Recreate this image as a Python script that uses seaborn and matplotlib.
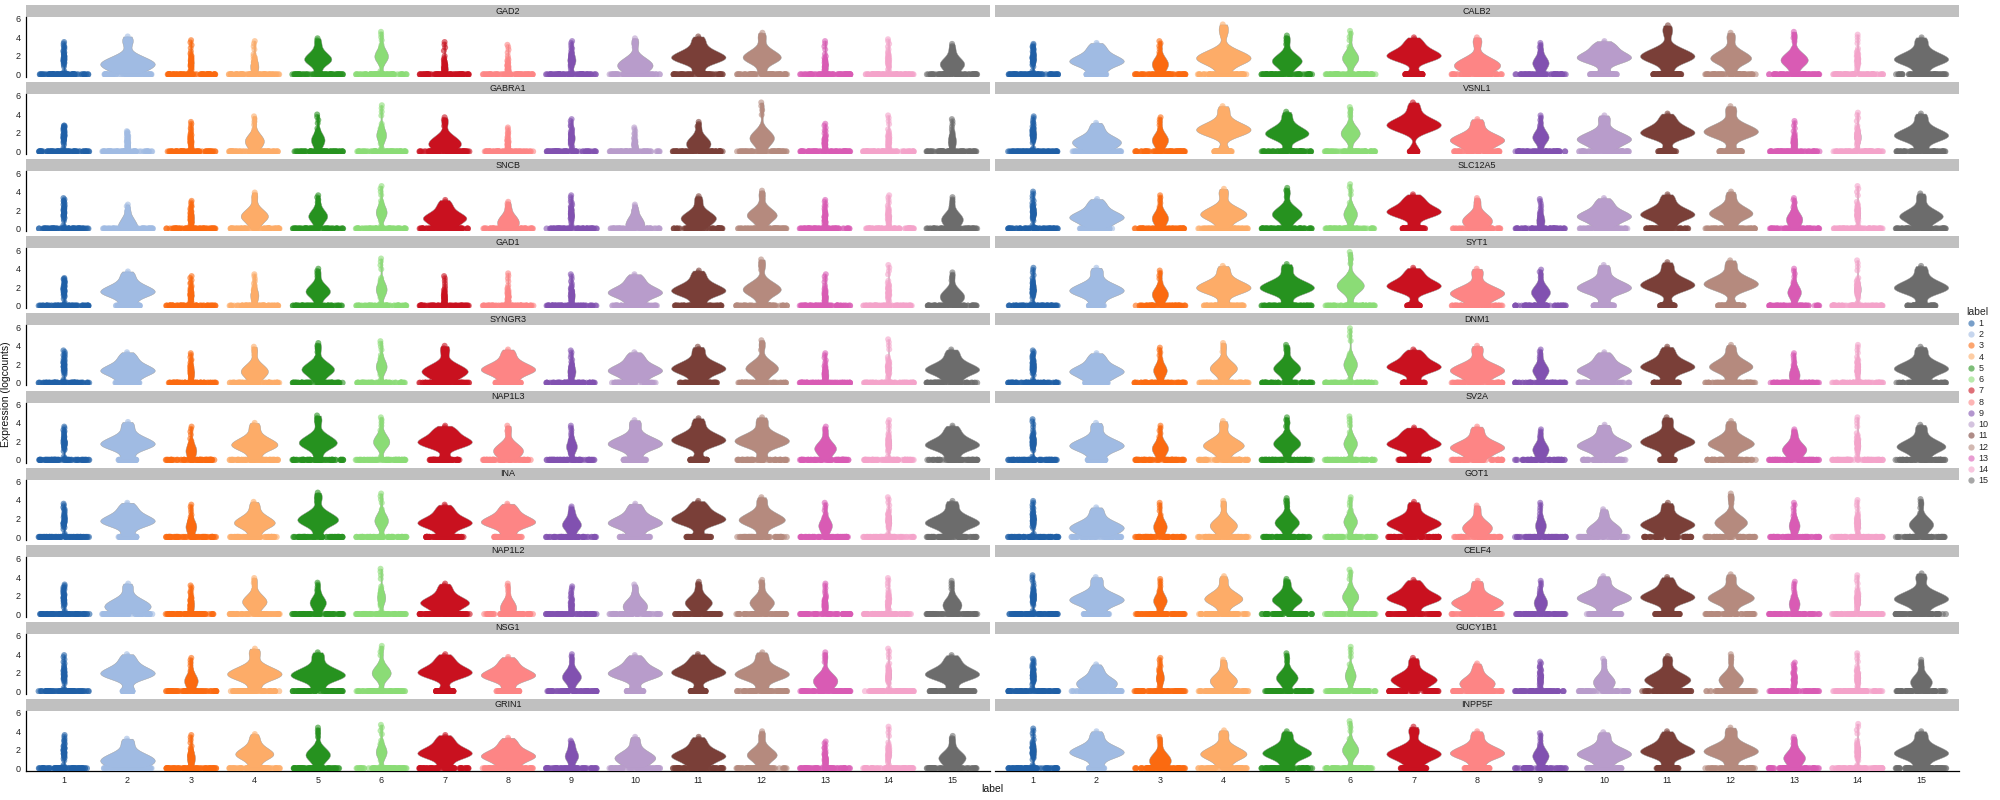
import numpy as np
import pandas as pd
import seaborn as sns
import matplotlib.pyplot as plt
from matplotlib.lines import Line2D

# cluster labels and their colours
labels = [str(i) for i in range(1, 16)]
colours = ["#1f5fa6", "#a0bbe3", "#fb6a10", "#fdac68", "#26921f", "#8bdc76",
           "#c9111f", "#fd8585", "#8151b0", "#b89ccb", "#7a3f38", "#b58a7e",
           "#d95bb4", "#f4a3ca", "#6c6c6c"]
pal = dict(zip(labels, colours))

genes_left = ["GAD2", "GABRA1", "SNCB", "GAD1", "SYNGR3", "NAP1L3", "INA", "NAP1L2", "NSG1", "GRIN1"]
genes_right = ["CALB2", "VSNL1", "SLC12A5", "SYT1", "DNM1", "SV2A", "GOT1", "CELF4", "GUCY1B1", "INPP5F"]

# highest expression value per cluster
top = {
    "GAD2": [3.5, 4.1, 3.7, 3.6, 3.9, 4.6, 3.5, 3.2, 3.6, 3.9, 4.1, 4.5, 3.6, 3.8, 3.3],
    "GABRA1": [2.8, 2.2, 3.2, 3.8, 4.0, 5.0, 3.7, 2.6, 3.5, 2.6, 3.2, 5.3, 3.0, 3.9, 3.5],
    "SNCB": [3.3, 2.6, 3.0, 3.9, 3.6, 4.6, 3.1, 2.9, 3.6, 2.6, 3.5, 4.1, 3.1, 3.6, 3.4],
    "GAD1": [3.0, 3.7, 3.2, 3.4, 4.0, 5.1, 3.2, 3.5, 3.4, 3.4, 3.8, 5.0, 3.4, 4.4, 3.6],
    "SYNGR3": [3.5, 3.3, 3.2, 3.9, 4.3, 4.5, 4.0, 3.6, 3.5, 3.3, 3.9, 4.6, 3.2, 4.7, 3.6],
    "NAP1L3": [3.6, 4.1, 3.6, 4.0, 4.8, 4.6, 3.7, 3.7, 3.7, 4.3, 4.5, 4.6, 3.6, 4.3, 3.7],
    "INA": [3.6, 3.7, 3.5, 3.8, 4.8, 4.7, 3.5, 3.6, 3.3, 3.6, 3.9, 4.3, 3.7, 4.3, 3.9],
    "NAP1L2": [3.2, 3.3, 3.1, 3.9, 3.4, 4.9, 3.3, 3.3, 3.0, 3.2, 3.5, 3.7, 3.3, 3.9, 3.6],
    "NSG1": [3.9, 4.0, 3.6, 4.6, 4.2, 4.9, 4.0, 3.7, 4.0, 3.9, 4.0, 4.2, 4.2, 4.6, 3.9],
    "GRIN1": [3.6, 3.2, 3.6, 3.7, 4.4, 4.7, 3.6, 3.3, 3.0, 3.4, 3.4, 4.0, 2.9, 4.5, 3.5],
    "CALB2": [3.3, 3.4, 3.6, 5.4, 4.2, 4.7, 4.0, 4.0, 3.4, 3.6, 5.3, 4.5, 4.6, 4.3, 4.0],
    "VSNL1": [3.8, 3.1, 3.7, 4.9, 4.3, 4.8, 5.3, 3.5, 3.9, 3.9, 4.1, 4.9, 3.3, 4.2, 4.1],
    "SLC12A5": [4.0, 3.2, 3.6, 4.3, 4.4, 4.8, 3.7, 3.3, 3.2, 3.3, 3.7, 4.0, 3.3, 4.6, 3.8],
    "SYT1": [4.1, 4.1, 3.8, 4.3, 4.5, 5.8, 4.1, 4.0, 3.9, 4.4, 4.7, 4.9, 4.0, 4.9, 4.3],
    "DNM1": [3.5, 3.2, 3.8, 4.3, 4.1, 5.9, 3.6, 4.0, 3.6, 3.3, 3.9, 4.1, 3.2, 4.1, 3.9],
    "SV2A": [4.4, 4.0, 3.7, 4.2, 4.6, 4.7, 3.5, 3.6, 3.3, 3.8, 4.6, 4.2, 3.3, 4.6, 3.8],
    "GOT1": [3.9, 3.2, 3.7, 3.9, 4.2, 4.3, 3.8, 3.4, 3.7, 3.0, 3.7, 4.7, 3.7, 4.0, 4.1],
    "CELF4": [4.2, 4.0, 3.8, 4.1, 3.8, 4.8, 3.7, 3.6, 3.6, 4.1, 4.0, 4.3, 3.5, 4.2, 4.4],
    "GUCY1B1": [3.5, 2.9, 3.6, 3.4, 4.1, 4.8, 3.6, 3.0, 3.2, 3.5, 3.8, 4.0, 3.1, 4.1, 3.4],
    "INPP5F": [4.3, 4.0, 3.4, 4.1, 4.0, 5.1, 4.5, 4.0, 3.8, 3.9, 4.0, 4.4, 3.4, 4.8, 4.0],
}

# centre of the non-zero bump
mid = {
    "GAD2": [1.8, 1.2, 1.3, 1.0, 1.7, 2.0, 0.8, 0.8, 1.6, 1.1, 1.9, 1.9, 1.0, 1.5, 1.2],
    "GABRA1": [1.7, 0.9, 1.2, 1.2, 1.3, 1.8, 1.0, 0.8, 1.5, 0.7, 1.0, 1.5, 1.0, 1.2, 1.2],
    "SNCB": [1.8, 0.7, 1.2, 1.4, 1.4, 1.8, 1.2, 0.9, 1.6, 0.8, 1.2, 1.5, 1.2, 1.3, 1.1],
    "GAD1": [1.7, 1.6, 1.2, 1.2, 1.6, 1.8, 0.9, 1.0, 1.2, 1.5, 1.7, 1.8, 1.0, 1.5, 1.1],
    "SYNGR3": [1.8, 1.4, 1.2, 1.3, 1.5, 1.8, 1.3, 1.5, 1.3, 1.4, 1.6, 1.6, 1.0, 1.6, 1.5],
    "NAP1L3": [1.9, 1.8, 1.1, 1.7, 1.9, 2.0, 2.0, 1.1, 1.5, 1.8, 2.2, 2.1, 1.3, 1.8, 1.7],
    "INA": [1.8, 1.8, 1.2, 1.6, 1.9, 1.8, 1.6, 1.7, 1.4, 1.6, 2.0, 1.9, 1.3, 1.8, 1.6],
    "NAP1L2": [1.7, 1.0, 1.1, 1.4, 1.3, 1.8, 1.3, 0.9, 1.0, 1.0, 1.3, 1.3, 1.1, 1.4, 1.1],
    "NSG1": [1.8, 2.0, 1.2, 1.9, 1.8, 2.0, 2.1, 1.8, 1.6, 2.0, 2.1, 1.9, 1.2, 1.8, 1.9],
    "GRIN1": [1.8, 1.0, 1.2, 1.6, 1.5, 1.8, 1.7, 1.4, 1.4, 1.2, 1.4, 1.5, 1.0, 1.6, 1.2],
    "CALB2": [1.8, 1.5, 1.2, 1.8, 1.5, 1.8, 2.1, 1.1, 1.3, 1.9, 2.0, 1.8, 1.6, 1.6, 1.7],
    "VSNL1": [1.9, 1.1, 1.3, 2.4, 2.0, 2.0, 2.9, 1.3, 1.6, 1.4, 2.1, 2.2, 1.0, 1.6, 1.8],
    "SLC12A5": [1.8, 1.3, 1.2, 1.6, 1.6, 1.6, 1.9, 1.0, 1.0, 1.4, 1.6, 1.7, 1.1, 1.7, 1.4],
    "SYT1": [1.8, 1.7, 1.3, 2.0, 2.0, 2.2, 2.2, 1.4, 1.5, 2.0, 2.3, 2.4, 1.5, 1.8, 2.0],
    "DNM1": [1.8, 1.3, 1.4, 1.6, 1.6, 2.0, 1.8, 1.4, 1.4, 1.4, 1.8, 1.8, 1.0, 1.6, 1.6],
    "SV2A": [2.0, 1.6, 1.3, 1.6, 1.8, 1.8, 1.8, 1.4, 1.2, 1.6, 2.0, 1.8, 1.2, 1.7, 1.5],
    "GOT1": [1.9, 1.1, 1.2, 1.3, 1.6, 1.7, 1.5, 1.1, 1.3, 0.9, 1.4, 1.6, 1.3, 1.5, 1.4],
    "CELF4": [1.9, 1.6, 1.5, 1.7, 1.6, 1.9, 1.8, 1.3, 1.3, 1.8, 1.9, 1.8, 1.2, 1.6, 1.7],
    "GUCY1B1": [1.7, 1.0, 1.5, 1.2, 1.5, 1.7, 1.3, 1.0, 1.4, 1.1, 1.3, 1.3, 1.3, 1.5, 1.1],
    "INPP5F": [1.9, 1.8, 1.0, 1.6, 1.7, 2.0, 1.6, 1.7, 1.4, 1.6, 1.9, 1.9, 1.2, 1.8, 1.7],
}

# relative width of the non-zero bump (1 = full violin width)
bump_w = {
    "GAD2": [0.08, 1.0, 0.1, 0.15, 0.5, 0.25, 0.12, 0.06, 0.15, 0.65, 1.0, 0.7, 0.1, 0.06, 0.45],
    "GABRA1": [0.08, 0.1, 0.08, 0.35, 0.25, 0.18, 0.6, 0.08, 0.12, 0.12, 0.45, 0.45, 0.08, 0.06, 0.15],
    "SNCB": [0.08, 0.35, 0.12, 0.5, 0.35, 0.2, 0.8, 0.4, 0.1, 0.35, 0.65, 0.55, 0.08, 0.08, 0.4],
    "GAD1": [0.08, 1.0, 0.1, 0.15, 0.45, 0.2, 0.1, 0.08, 0.12, 1.0, 1.0, 0.7, 0.1, 0.06, 0.45],
    "SYNGR3": [0.08, 1.0, 0.12, 0.5, 0.6, 0.2, 0.85, 1.0, 0.15, 1.0, 1.0, 0.6, 0.12, 0.08, 1.0],
    "NAP1L3": [0.1, 1.0, 0.2, 0.85, 0.7, 0.3, 1.0, 0.55, 0.2, 1.0, 1.0, 1.0, 0.4, 0.1, 1.0],
    "INA": [0.08, 1.0, 0.2, 0.75, 0.75, 0.25, 1.0, 1.0, 0.35, 1.0, 1.0, 0.85, 0.25, 0.1, 1.0],
    "NAP1L2": [0.08, 0.85, 0.12, 0.45, 0.3, 0.15, 0.9, 0.3, 0.08, 0.45, 0.5, 0.45, 0.1, 0.06, 0.35],
    "NSG1": [0.08, 1.0, 0.25, 1.0, 1.0, 0.35, 1.0, 1.0, 0.35, 1.0, 1.0, 1.0, 0.45, 0.1, 1.0],
    "GRIN1": [0.08, 1.0, 0.15, 0.7, 0.45, 0.2, 1.0, 1.0, 0.25, 0.75, 1.0, 0.55, 0.1, 0.08, 0.5],
    "CALB2": [0.12, 1.0, 0.3, 1.0, 0.55, 0.3, 1.0, 0.85, 0.3, 1.0, 1.0, 0.75, 0.5, 0.08, 1.0],
    "VSNL1": [0.12, 0.9, 0.3, 1.0, 0.8, 0.35, 1.0, 1.0, 0.3, 1.0, 1.0, 1.0, 0.12, 0.12, 1.0],
    "SLC12A5": [0.12, 1.0, 0.3, 0.85, 0.55, 0.25, 1.0, 0.55, 0.15, 1.0, 1.0, 0.8, 0.3, 0.1, 0.8],
    "SYT1": [0.12, 1.0, 0.3, 1.0, 1.0, 0.5, 1.0, 1.0, 0.35, 1.0, 1.0, 1.0, 0.25, 0.12, 1.0],
    "DNM1": [0.12, 1.0, 0.25, 0.5, 0.5, 0.25, 1.0, 1.0, 0.3, 1.0, 1.0, 0.8, 0.2, 0.1, 1.0],
    "SV2A": [0.12, 1.0, 0.3, 0.75, 0.5, 0.25, 1.0, 1.0, 0.3, 1.0, 1.0, 0.85, 0.45, 0.1, 0.9],
    "GOT1": [0.12, 1.0, 0.25, 0.5, 0.45, 0.25, 1.0, 0.55, 0.2, 0.65, 1.0, 0.6, 0.2, 0.1, 0.45],
    "CELF4": [0.12, 1.0, 0.25, 0.7, 0.55, 0.3, 1.0, 0.95, 0.25, 1.0, 1.0, 0.85, 0.2, 0.1, 1.0],
    "GUCY1B1": [0.12, 0.75, 0.15, 0.5, 0.4, 0.2, 0.85, 0.65, 0.1, 0.4, 0.85, 0.45, 0.1, 0.1, 0.4],
    "INPP5F": [0.12, 1.0, 0.4, 0.85, 0.9, 0.3, 1.0, 1.0, 0.3, 1.0, 1.0, 1.0, 0.4, 0.1, 1.0],
}

# relative width of the band of zero counts
full = [1.0] * 15
zero_w = {
    "GAD2": full, "GABRA1": full, "SNCB": full,
    "GAD1": [1, 0.5, 1, 1, 1, 1, 1, 1, 1, 0.9, 0.95, 1, 1, 1, 1],
    "SYNGR3": [1, 0.5, 1, 1, 1, 1, 1, 0.5, 1, 0.9, 0.75, 1, 1, 1, 1],
    "NAP1L3": [1, 0.35, 1, 1, 1, 1, 0.6, 1, 1, 0.45, 0.35, 1, 1, 1, 1],
    "INA": [1, 0.35, 1, 1, 1, 1, 0.75, 0.55, 1, 0.6, 0.5, 1, 1, 1, 1],
    "NAP1L2": full,
    "NSG1": [1, 0.2, 1, 1, 1, 1, 0.35, 0.45, 1, 0.35, 0.3, 1, 1, 1, 0.9],
    "GRIN1": [1, 0.95, 1, 1, 1, 1, 1, 1, 1, 1, 1, 1, 1, 1, 1],
    "CALB2": [1, 0.4, 1, 1, 1, 1, 0.35, 1, 1, 0.55, 0.55, 1, 1, 1, 1],
    "VSNL1": [1, 1, 1, 0.35, 1, 1, 0.15, 0.9, 1, 1, 0.35, 0.45, 1, 1, 1],
    "SLC12A5": [1, 0.65, 1, 1, 1, 1, 0.45, 1, 1, 0.95, 0.85, 1, 1, 1, 1],
    "SYT1": [1, 0.3, 1, 0.8, 1, 1, 0.25, 1, 1, 0.4, 0.3, 0.5, 1, 1, 0.6],
    "DNM1": [1, 0.45, 1, 1, 1, 1, 0.45, 1, 1, 1, 0.55, 1, 1, 1, 1],
    "SV2A": [1, 0.35, 1, 1, 1, 1, 0.6, 1, 1, 0.85, 0.3, 1, 1, 1, 1],
    "GOT1": full,
    "CELF4": [1, 0.5, 1, 1, 1, 1, 1, 1, 1, 0.7, 0.5, 1, 1, 1, 1],
    "GUCY1B1": full,
    "INPP5F": [1, 0.3, 1, 1, 1, 1, 0.5, 0.5, 1, 0.7, 0.45, 1, 1, 1, 1],
}

# shape of a bump around its centre (normal quantiles), its lower stem and the tail up to the top
body = [-1.75, -1.4, -1.17, -0.99, -0.84, -0.7, -0.58, -0.47, -0.36, -0.25, -0.15, -0.05,
        0.05, 0.15, 0.25, 0.36, 0.47, 0.58, 0.7, 0.84, 0.99, 1.17, 1.4, 1.75]
spread_lo = 0.55
spread_hi = 0.68
stem = [0.08, 0.2, 0.35]
tail = [0.65, 0.78, 0.9, 1.0]
n_zero = 70


def bump_values(m, t):
    vals = list(stem)
    for o in body:
        v = m + (spread_lo if o < 0 else spread_hi) * o
        vals.append(min(t, max(0.08, v)))
    vals += [m + f * (t - m) for f in tail]
    return vals


sns.set_style("white")
plt.rcParams["font.family"] = ["Liberation Sans", "DejaVu Sans"]
np.random.seed(3)

W, H = 2000, 800
fig = plt.figure(figsize=(20, 8), dpi=100)

col_x = [26, 995]
col_w = 964
pitch = 77.1

for c, genes in enumerate([genes_left, genes_right]):
    for r, gene in enumerate(genes):
        strip_top = 5 + r * pitch
        sax = fig.add_axes([col_x[c] / W, 1 - (strip_top + 12) / H, col_w / W, 12 / H])
        sax.set_facecolor("#c0c0c0")
        sax.set_xticks([])
        sax.set_yticks([])
        for s in sax.spines.values():
            s.set_visible(False)
        sax.text(0.5, 0.5, gene, ha="center", va="center", fontsize=6.5, color="#1a1a1a",
                 transform=sax.transAxes)

        ax = fig.add_axes([col_x[c] / W, 1 - (strip_top + 72) / H, col_w / W, 60 / H])

        # non-zero part of each cluster
        rows = []
        for k, lab in enumerate(labels):
            for v in bump_values(mid[gene][k], top[gene][k]):
                rows.append((lab, v, bump_w[gene][k]))
        vdf = pd.DataFrame(rows, columns=["label", "value", "w"])
        for w, sub in vdf.groupby("w"):
            sns.violinplot(data=sub, x="label", y="value", hue="label", order=labels,
                           hue_order=labels, palette=pal, dodge=False, width=0.86 * w,
                           cut=0, inner=None, bw_method=0.38, density_norm="width",
                           saturation=1, linewidth=0.3, linecolor="#9a9a9a",
                           legend=False, ax=ax)

        # cells with zero counts
        zrows = []
        for k, lab in enumerate(labels):
            zrows += [(lab, 0.0, zero_w[gene][k])] * n_zero
        zdf = pd.DataFrame(zrows, columns=["label", "value", "w"])
        for w, sub in zdf.groupby("w"):
            sns.stripplot(data=sub, x="label", y="value", hue="label", order=labels,
                          hue_order=labels, palette=pal, jitter=0.4 * w, size=4.5,
                          alpha=0.6, linewidth=0, legend=False, ax=ax)

        sns.stripplot(data=vdf, x="label", y="value", hue="label", order=labels,
                      hue_order=labels, palette=pal, jitter=0.012, size=4.3,
                      alpha=0.6, linewidth=0, legend=False, ax=ax)

        ax.set_xlim(-0.6, 14.6)
        ax.set_ylim(-0.28, 6.2)
        ax.set_xlabel("")
        ax.set_ylabel("")
        ax.set_yticks([0, 2, 4, 6])
        ax.set_facecolor("none")
        for s in ["top", "right"]:
            ax.spines[s].set_visible(False)
        ax.tick_params(length=2.5, width=0.8, labelsize=6.5, colors="#222222", pad=1.5)
        ax.spines["left"].set_linewidth(0.9)
        ax.spines["bottom"].set_linewidth(0.9)
        ax.spines["left"].set_color("black")
        ax.spines["bottom"].set_color("black")
        if c == 1:
            ax.spines["left"].set_visible(False)
            ax.tick_params(axis="y", left=False, labelleft=False)
        if r < 9:
            ax.spines["bottom"].set_visible(False)
            ax.tick_params(axis="x", bottom=False, labelbottom=False)

fig.text(6 / W, 1 - 394 / H, "Expression (logcounts)", rotation=90, ha="center", va="center",
         fontsize=7.5, color="#111111")
fig.text(992 / W, 1 - 789 / H, "label", ha="center", va="center", fontsize=7.5, color="#111111")

handles = [Line2D([], [], marker="o", ls="", color=pal[lab], alpha=0.6, markersize=4.5,
                  markeredgewidth=0) for lab in labels]
fig.legend(handles, labels, title="label", loc="upper left", frameon=False,
           bbox_to_anchor=(1963 / W, 1 - 303 / H), fontsize=6.5, title_fontsize=7.5,
           labelspacing=0.25, handletextpad=0.3, handlelength=1.0, borderaxespad=0,
           alignment="left")

fig.savefig("out.png", dpi=100)
